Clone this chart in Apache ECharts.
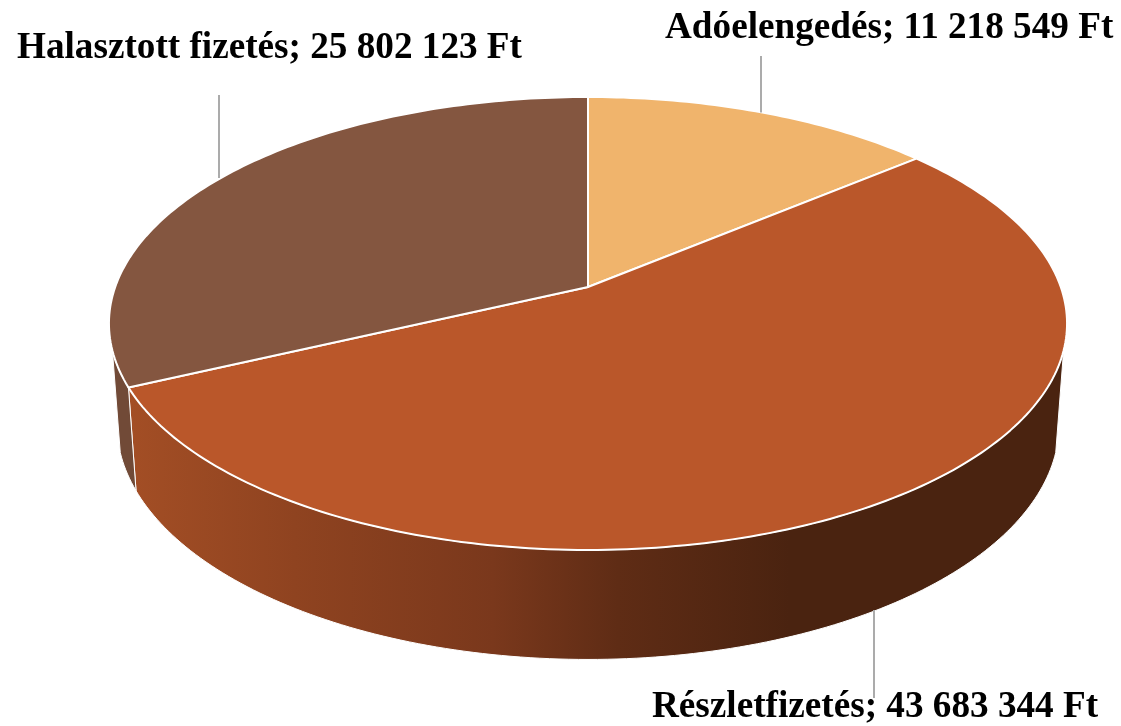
<!DOCTYPE html>
<html>
<head>
<meta charset="utf-8">
<style>
html, body { margin: 0; padding: 0; background: #fff; }
#chart { width: 1121px; height: 726px; }
</style>
<script src="https://cdn.jsdelivr.net/npm/echarts@6/dist/echarts.min.js"></script>
</head>
<body>
<div id="chart"></div>
<script>
// data, clockwise from the top of the pie
var names = ['Adóelengedés', 'Részletfizetés', 'Halasztott fizetés'];
var values = [11218549, 43683344, 25802123];
var colors = ['#F0B46C', '#BA572A', '#845640'];
var sideColors = ['#A9743C', null, '#714A37'];

// label corner and leader line, one per slice
var labelX = [665, 652, 17];
var labelY = [28, 707, 48];
var leaderX = [761, 874, 219];
var leaderEnd = [56, 698, 95];

// perspective of the top and bottom faces: x = cx + a*u/(1+k*v), y = cy + b*v/(1+k*v)
var topFace = { cx: 588, cy: 287, a: 472.8, b: 220.6, k: -0.161 };
var bottomFace = { cx: 588, cy: 386.5, a: 465, b: 229, k: -0.161 };
// angles where the side wall leaves the outline, right and left
var sideFrom = 106;
var sideTo = 254;

var total = 0;
for (var i = 0; i < values.length; i++) {
    total += values[i];
}
var starts = [];
var sum = 0;
for (var j = 0; j < values.length; j++) {
    starts.push(sum / total * 360);
    sum += values[j];
}

function project(face, deg) {
    var r = deg * Math.PI / 180;
    var u = Math.sin(r);
    var v = -Math.cos(r);
    var w = 1 + face.k * v;
    return [face.cx + face.a * u / w, face.cy + face.b * v / w];
}

function arc(face, from, to) {
    var pts = [];
    for (var d = from; d < to; d += 1) {
        pts.push(project(face, d));
    }
    pts.push(project(face, to));
    return pts;
}

function moneyText(v) {
    return String(v).replace(/\B(?=(\d{3})+$)/g, ' ') + ' Ft';
}

var sideGradient = new echarts.graphic.LinearGradient(130, 0, 790, 0, [
    { offset: 0, color: '#A34E25' },
    { offset: 0.25, color: '#8F4320' },
    { offset: 0.55, color: '#7A381C' },
    { offset: 0.74, color: '#5F2C15' },
    { offset: 1, color: '#4A2310' }
], true);

function renderSlice(params, api) {
    var idx = params.dataIndex;
    var value = api.value(0);
    var from = starts[idx];
    var to = from + value / total * 360;
    var mid = (from + to) / 2;
    var children = [];

    // side wall, only the front part can be seen
    var a = Math.max(from, sideFrom);
    var b = Math.min(to, sideTo);
    if (a < b) {
        var wall = arc(topFace, a, b).concat(arc(bottomFace, a, b).reverse());
        children.push({
            type: 'polygon',
            z2: 1,
            shape: { points: wall },
            style: {
                fill: idx === 1 ? sideGradient : sideColors[idx],
                stroke: '#fff',
                lineWidth: 1
            }
        });
    }

    // top face
    var face = [[topFace.cx, topFace.cy]].concat(arc(topFace, from, to));
    children.push({
        type: 'polygon',
        z2: 2,
        shape: { points: face },
        style: { fill: colors[idx], stroke: '#fff', lineWidth: 2, lineJoin: 'round' }
    });

    // leader line from the rim to the label
    var front = mid > sideFrom && mid < sideTo;
    var p = project(front ? bottomFace : topFace, mid);
    children.push({
        type: 'line',
        z2: 3,
        shape: { x1: leaderX[idx], y1: p[1], x2: leaderX[idx], y2: leaderEnd[idx] },
        style: { stroke: '#ABABAB', lineWidth: 2 }
    });

    children.push({
        type: 'text',
        z2: 4,
        style: {
            text: names[idx] + '; ' + moneyText(value),
            x: labelX[idx],
            y: labelY[idx],
            align: 'left',
            verticalAlign: 'middle',
            font: 'bold 37.2px "Liberation Serif"',
            fill: '#000'
        }
    });

    return { type: 'group', children: children };
}

var chart = echarts.init(document.getElementById('chart'));
var option = {
    animation: false,
    backgroundColor: '#fff',
    series: [
        {
            type: 'custom',
            coordinateSystem: 'none',
            renderItem: renderSlice,
            data: values.map(function (v, n) {
                return { name: names[n], value: [v] };
            })
        }
    ]
};
chart.setOption(option);
</script>
</body>
</html>
